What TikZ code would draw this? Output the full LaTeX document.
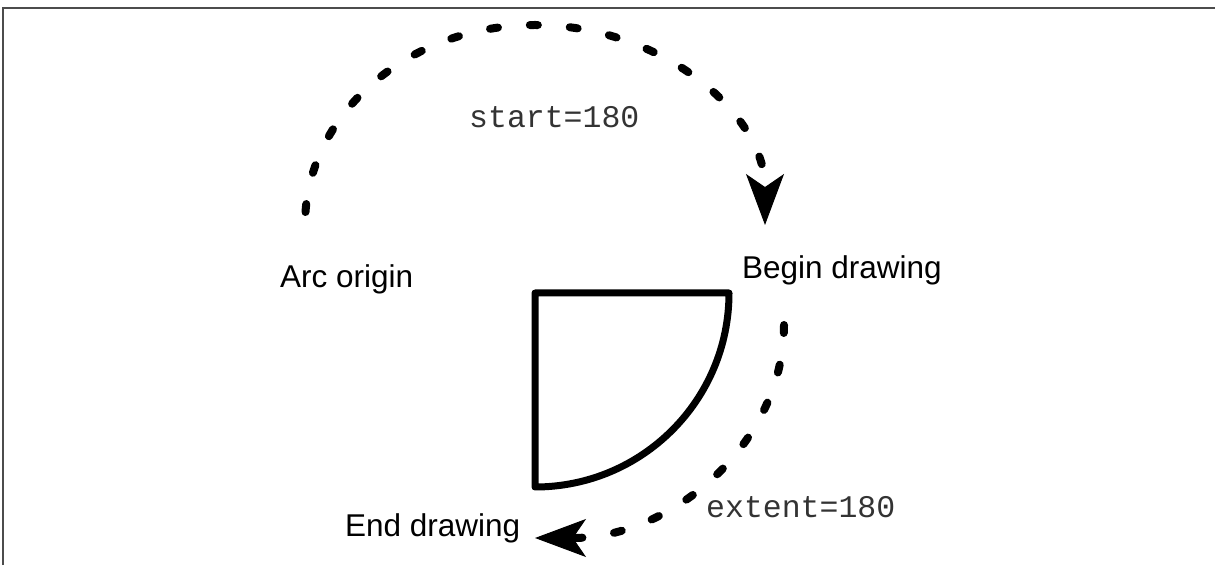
\documentclass[tikz,border=0pt]{standalone}
\usepackage{fontspec}
\setmainfont{Liberation Sans}
\newfontfamily\monofonte{Liberation Mono}
\usetikzlibrary{arrows.meta, positioning}

\begin{document}
\begin{tikzpicture}[
    x=1pt, y=1pt,
    font=\fontsize{31.5}{36}\selectfont,
    rotulo/.style={inner sep=0pt, anchor=base west},
    codigo/.style={rotulo, font=\fontsize{31.5}{36}\selectfont\monofonte, text=black!80},
    tracejado/.style={line width=8pt, line cap=round, dash pattern=on 8pt off 32pt},
    ponta/.style={-{Stealth[length=51pt, width=38pt, inset=13pt, line width=1pt]}},
    fatia/.style={line width=7pt, line join=round}
]
    \useasboundingbox (0,0) rectangle (1215,565);

    % moldura
    \draw[black!70, line width=2.5pt] (3,0) -- (3,557) -- (1215,557);

    \coordinate (centro) at (535,272);
    \coordinate (origem) at (305,340);
    \coordinate (inicio) at (784,240);

    % arcos tracejados
    \draw[tracejado, dash phase=27pt, ponta] (origem) arc[start angle=180, end angle=0, x radius=230, y radius=200];
    \draw[tracejado, ponta] (inicio) arc[start angle=0, end angle=-90, x radius=249, y radius=213];

    % fatia de um quarto
    \draw[fatia] (centro) -- ++(194,0) arc[start angle=0, end angle=-90, radius=194] -- cycle;

    \node[rotulo] (arcorigem) at (280,277) {Arc origin};
    \node[rotulo] (comeco) at (742,286) {Begin drawing};
    \node[rotulo] (fim) at (345,29) {End drawing};
    \node[codigo] (start) at (469,437) {start=180};
    \node[codigo] (extent) at (706,48) {extent=180};
\end{tikzpicture}
\end{document}
